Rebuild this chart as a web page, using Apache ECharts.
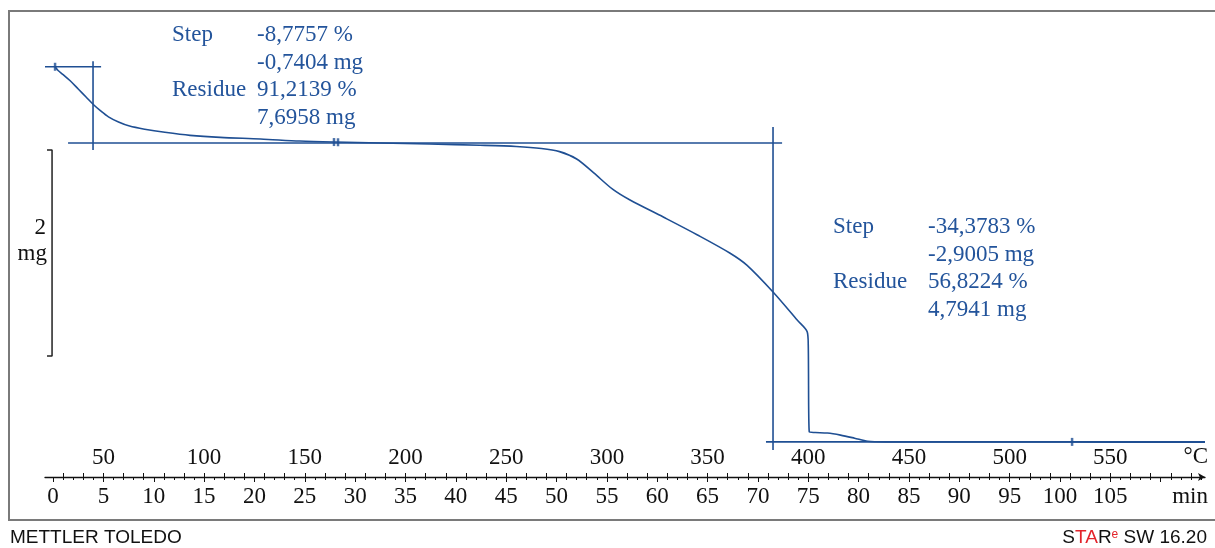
<!DOCTYPE html>
<html>
<head>
<meta charset="utf-8">
<script src="https://cdn.jsdelivr.net/npm/echarts/dist/echarts.min.js"></script>
<style>
html,body{margin:0;padding:0;background:#fff;}
#c{width:1215px;height:548px;}
</style>
</head>
<body>
<div id="c"></div>
<script>
// ---- data (time in min, mass in mg) ----
var curveTime = [0.2,0.5,1.0,1.7,2.5,3.3,4.0,4.7,5.5,6.5,7.6,9.1,11.1,13.6,16.6,20.6,24.5,28.0,32.5,37.4,42.4,46.0,48.5,50.3,52.0,53.7,55.6,57.3,60.6,64.0,67.2,68.9,71.5,73.9,74.9,75.0,75.1,75.7,76.9,78.2,79.6,80.9,82.6,89.1,101.0,110.0,114.4];
var curveMass = [8.436,8.40,8.36,8.30,8.22,8.14,8.07,8.01,7.95,7.90,7.86,7.83,7.80,7.77,7.75,7.735,7.715,7.705,7.696,7.686,7.674,7.662,7.643,7.612,7.540,7.405,7.245,7.142,6.977,6.803,6.628,6.510,6.249,5.977,5.861,5.735,4.89,4.885,4.88,4.86,4.83,4.80,4.794,4.794,4.794,4.790,4.790];

var initialMass = 8.4362;
var residue1 = 7.6958;
var residue2 = 4.7941;

var minTickLabels = [0,5,10,15,20,25,30,35,40,45,50,55,60,65,70,75,80,85,90,95,100,105];
var minMajorTicks = [0,5,10,15,20,25,30,35,40,45,50,55,60,65,70,75,80,85,90,95,100,105,110];
var minMinorTicks = [1,2,3,4,6,7,8,9,11,12,13,14,16,17,18,19,21,22,23,24,26,27,28,29,31,32,33,34,36,37,38,39,41,42,43,44,46,47,48,49,51,52,53,54,56,57,58,59,61,62,63,64,66,67,68,69,71,72,73,74,76,77,78,79,81,82,83,84,86,87,88,89,91,92,93,94,96,97,98,99,101,102,103,104,106,107,108,109,111,112,113,114];
var tempTickLabels = [50,100,150,200,250,300,350,400,450,500,550];
var tempMinorTicks = [30,40,50,60,70,80,90,100,110,120,130,140,150,160,170,180,190,200,210,220,230,240,250,260,270,280,290,300,310,320,330,340,350,360,370,380,390,400,410,420,430,440,450,460,470,480,490,500,510,520,530,540,550,560,570,580,590];

var limitTimes = [0.2, 27.9, 28.3, 101.2];
var limitMass = [8.436, 7.705, 7.703, 4.794];

var step1Text = [['Step','-8,7757 %'],['','-0,7404 mg'],['Residue','91,2139 %'],['','7,6958 mg']];
var step2Text = [['Step','-34,3783 %'],['','-2,9005 mg'],['Residue','56,8224 %'],['','4,7941 mg']];

// ---- chart ----
var BLUE = '#1f4f93';
var TXT = '#23549b';
var SERIF = 'Liberation Serif';
var tStart = 25, rate = 5, tMin = -0.8, tMax = 114.4;

function zip(a,b){var r=[];for(var i=0;i<a.length;i++)r.push([a[i],b[i]]);return r;}

var constructLines = [
  [[-0.8, initialMass],[4.77, initialMass]],
  [[3.97, 8.49],[3.97, 7.628]],
  [[1.49, residue1],[72.4, residue1]],
  [[71.5, 7.85],[71.5, 4.715]],
  [[70.8, residue2],[tMax, residue2]]
];
var scaleTop = 7.628, scaleLen = 2;

var series = [];
constructLines.forEach(function(d){
  series.push({type:'line', data:d, showSymbol:false, clip:false, silent:true,
    lineStyle:{color:BLUE, width:1.6}, xAxisIndex:0, yAxisIndex:0, z:2});
});
series.push({type:'line', data: zip(curveTime, curveMass), showSymbol:false, clip:false,
  smooth:0.3,
  lineStyle:{color:BLUE, width:1.6}, xAxisIndex:0, yAxisIndex:0, z:3});
series.push({type:'line', data:[[-0.6,scaleTop],[-0.1,scaleTop],[-0.1,scaleTop-scaleLen],[-0.6,scaleTop-scaleLen]],
  showSymbol:false, clip:false, lineStyle:{color:'#222', width:1.5}, xAxisIndex:0, yAxisIndex:0});
series.push({type:'scatter', data: zip(limitTimes, limitMass), symbol:'rect', symbolSize:[2.5,8],
  itemStyle:{color:BLUE}, clip:false, xAxisIndex:0, yAxisIndex:0, z:4});

var graphics = [
  {type:'rect', shape:{x:9,y:11,width:1212,height:509}, style:{fill:'none', stroke:'#7a7a7a', lineWidth:2}, silent:true}
];
function addBlock(rows, x1, x2, y0){
  rows.forEach(function(r,i){
    var y = y0 + i*27.6;
    if (r[0]) graphics.push({type:'text', x:x1, y:y, style:{text:r[0], font:'23px "Liberation Serif"', fill:TXT, verticalAlign:'middle', align:'left'}});
    graphics.push({type:'text', x:x2, y:y, style:{text:r[1], font:'23px "Liberation Serif"', fill:TXT, verticalAlign:'middle', align:'left'}});
  });
}
addBlock(step1Text, 172, 257, 35);
addBlock(step2Text, 833, 928, 227);
graphics.push({type:'text', x:46, y:228, style:{text:'2', font:'23px "Liberation Serif"', fill:'#111', align:'right', verticalAlign:'middle'}});
graphics.push({type:'text', x:47, y:254, style:{text:'mg', font:'23px "Liberation Serif"', fill:'#111', align:'right', verticalAlign:'middle'}});
graphics.push({type:'text', x:1208, y:457, style:{text:'\u00b0C', font:'23px "Liberation Serif"', fill:'#111', align:'right', verticalAlign:'middle'}});
graphics.push({type:'text', x:1208, y:497, style:{text:'min', font:'23px "Liberation Serif"', fill:'#111', align:'right', verticalAlign:'middle'}});
graphics.push({type:'text', x:10, y:538, style:{text:'METTLER TOLEDO', font:'19px "Liberation Sans"', fill:'#111', align:'left', verticalAlign:'middle'}});
graphics.push({type:'text', x:1207, y:538, style:{
  text:'{k|S}{r|TA}{k|R}{e|e}{k| SW 16.20}', align:'right', verticalAlign:'middle',
  rich:{
    k:{font:'19px "Liberation Sans"', fill:'#111', verticalAlign:'bottom'},
    r:{font:'19px "Liberation Sans"', fill:'#e3242b', verticalAlign:'bottom'},
    e:{font:'12px "Liberation Sans"', fill:'#e3242b', verticalAlign:'top'}
  }}});

var chart = echarts.init(document.getElementById('c'), null, {renderer:'canvas'});
chart.setOption({
  animation:false,
  backgroundColor:'#fff',
  grid:{left:45, right:10, top:11, bottom:71, containLabel:false},
  xAxis:[
    {type:'value', min:tMin, max:tMax, position:'bottom',
     axisLine:{show:true, lineStyle:{color:'#111', width:1.3}, symbol:['none','arrow'], symbolSize:[6,7]},
     axisTick:{show:true, length:5, customValues:minMajorTicks, lineStyle:{color:'#111'}},
     splitLine:{show:false},
     axisLabel:{customValues:minTickLabels, margin:8, fontFamily:SERIF, fontSize:23, color:'#111'}},
    {type:'value', min:tStart+rate*tMin, max:tStart+rate*tMax, position:'bottom',
     axisLine:{show:false},
     axisTick:{show:true, inside:true, length:4, customValues:tempMinorTicks, lineStyle:{color:'#111'}},
     splitLine:{show:false},
     axisLabel:{inside:true, customValues:tempTickLabels, margin:8, fontFamily:SERIF, fontSize:23, color:'#111'}},
    {type:'value', min:tMin, max:tMax, position:'bottom',
     axisLine:{show:false},
     axisTick:{show:true, length:3, customValues:minMinorTicks, lineStyle:{color:'#111'}},
     splitLine:{show:false},
     axisLabel:{show:false}}
  ],
  yAxis:[{type:'value', min:4.4531, max:8.9774, show:false, splitLine:{show:false}}],
  series:series,
  graphic:graphics
});
</script>
</body>
</html>
